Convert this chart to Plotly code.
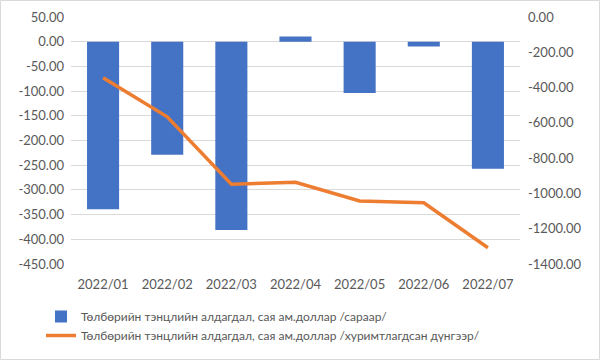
import plotly.graph_objects as go

months = ["2022/01", "2022/02", "2022/03", "2022/04", "2022/05", "2022/06", "2022/07"]
monthly = [-339, -229, -381, 10.7, -104, -9.5, -257]
cumulative = [-344, -566, -948, -937, -1043, -1053, -1308]

bar_name = "Төлбөрийн тэнцлийн алдагдал, сая ам.доллар /сараар/"
line_name = "Төлбөрийн тэнцлийн алдагдал, сая ам.доллар /хуримтлагдсан дүнгээр/"

left_vals = [50, 0, -50, -100, -150, -200, -250, -300, -350, -400, -450]
left_text = ["50.00", "0.00", "-50.00", "-100.00", "-150.00", "-200.00", "-250.00",
             "-300.00", "-350.00", "-400.00", "-450.00"]
right_vals = [0, -200, -400, -600, -800, -1000, -1200, -1400]
right_text = ["0.00", "-200.00", "-400.00", "-600.00", "-800.00", "-1000.00",
              "-1200.00", "-1400.00"]

font_fam = "Lato, Open Sans, sans-serif"
gray = "#595959"

fig = go.Figure()
fig.add_trace(go.Bar(x=months, y=monthly, name=bar_name,
                     marker=dict(color="#4472C4", line=dict(width=0)), yaxis="y"))
fig.add_trace(go.Scatter(x=months, y=cumulative, name=line_name, mode="lines",
                         line=dict(color="#ED7D31", width=3.5), yaxis="y2"))

L, R, T, B = 71, 80, 17, 96
pw, ph = 600 - L - R, 360 - T - B

fig.update_layout(
    width=600, height=360,
    margin=dict(l=L, r=R, t=T, b=B, autoexpand=False),
    paper_bgcolor="white", plot_bgcolor="white",
    font=dict(family=font_fam, size=13, color=gray),
    bargap=0.5,
    xaxis=dict(showgrid=False, showline=False, zeroline=False, ticks="",
               ticklabelstandoff=11, tickfont=dict(size=13, color=gray)),
    yaxis=dict(range=[-450, 50], tickvals=left_vals, ticktext=left_text,
               showgrid=True, gridcolor="#d9d9d9", gridwidth=1, zeroline=False,
               showline=False, ticks="", ticklabelstandoff=6,
               tickfont=dict(size=13, color=gray)),
    yaxis2=dict(range=[-1400, 0], tickvals=right_vals, ticktext=right_text,
                overlaying="y", side="right", showgrid=False, zeroline=False,
                showline=False, ticks="", ticklabelstandoff=7,
                tickfont=dict(size=13, color=gray)),
    legend=dict(orientation="v", x=(41 - L) / pw, y=-(302 - T - ph) / ph,
                xanchor="left", yanchor="top", itemwidth=30,
                font=dict(size=12, color=gray), bgcolor="rgba(0,0,0,0)",
                tracegroupgap=0),
    showlegend=True,
    shapes=[dict(type="rect", xref="paper", yref="paper",
                 x0=(0.5 - L) / pw, x1=(599.5 - L) / pw,
                 y0=-(359.5 - (T + ph)) / ph, y1=1 + (T - 0.5) / ph,
                 line=dict(color="#d9d9d9", width=1), layer="below")],
)

fig.write_html("out.html", config={"displayModeBar": False},
               post_script="document.body.style.margin='0';")
